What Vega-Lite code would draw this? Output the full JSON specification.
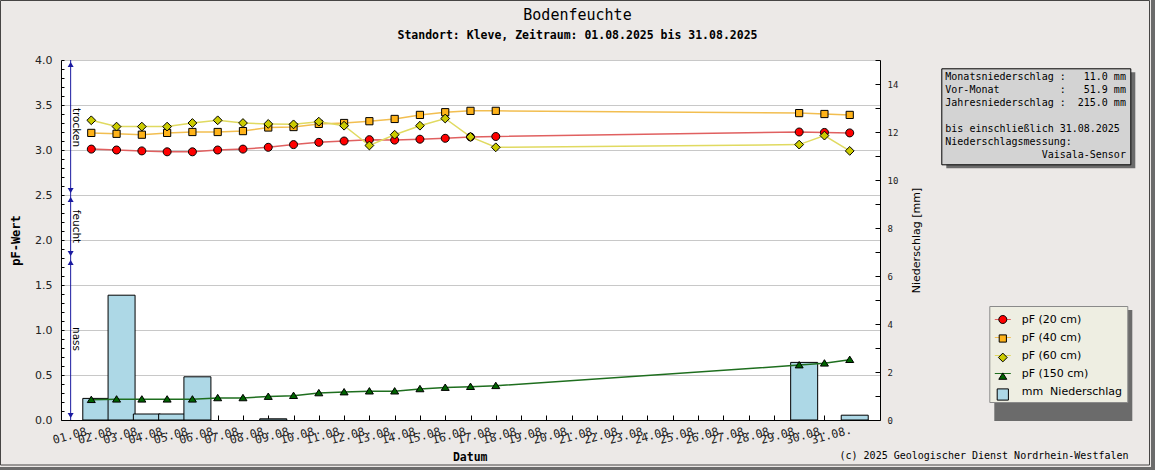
{
  "$schema": "https://vega.github.io/schema/vega-lite/v6.json",
  "width": 819,
  "height": 360,
  "autosize": {"type": "none"},
  "padding": {"left": 61, "top": 60, "right": 275, "bottom": 50},
  "background": "#ECE9E7",
  "view": {"fill": "white", "stroke": null},
  "title": {
    "text": "Bodenfeuchte",
    "subtitle": "Standort: Kleve, Zeitraum: 01.08.2025 bis 31.08.2025",
    "font": "DejaVu Sans Mono", "fontSize": 15, "fontWeight": "normal", "color": "black",
    "subtitleFont": "DejaVu Sans Mono", "subtitleFontSize": 11.5, "subtitleFontWeight": "bold", "subtitleColor": "black",
    "subtitlePadding": 7, "anchor": "middle", "frame": "group", "dx": 107, "offset": -46.5
  },
  "datasets": {
    "pf": [
      {"date": "2025-08-01", "series": "pF (20 cm)", "pF": 3.01},
      {"date": "2025-08-02", "series": "pF (20 cm)", "pF": 3.0},
      {"date": "2025-08-03", "series": "pF (20 cm)", "pF": 2.99},
      {"date": "2025-08-04", "series": "pF (20 cm)", "pF": 2.98},
      {"date": "2025-08-05", "series": "pF (20 cm)", "pF": 2.98},
      {"date": "2025-08-06", "series": "pF (20 cm)", "pF": 3.0},
      {"date": "2025-08-07", "series": "pF (20 cm)", "pF": 3.01},
      {"date": "2025-08-08", "series": "pF (20 cm)", "pF": 3.03},
      {"date": "2025-08-09", "series": "pF (20 cm)", "pF": 3.06},
      {"date": "2025-08-10", "series": "pF (20 cm)", "pF": 3.085},
      {"date": "2025-08-11", "series": "pF (20 cm)", "pF": 3.1},
      {"date": "2025-08-12", "series": "pF (20 cm)", "pF": 3.115},
      {"date": "2025-08-13", "series": "pF (20 cm)", "pF": 3.11},
      {"date": "2025-08-14", "series": "pF (20 cm)", "pF": 3.12},
      {"date": "2025-08-15", "series": "pF (20 cm)", "pF": 3.13},
      {"date": "2025-08-16", "series": "pF (20 cm)", "pF": 3.145},
      {"date": "2025-08-17", "series": "pF (20 cm)", "pF": 3.15},
      {"date": "2025-08-29", "series": "pF (20 cm)", "pF": 3.2},
      {"date": "2025-08-30", "series": "pF (20 cm)", "pF": 3.195},
      {"date": "2025-08-31", "series": "pF (20 cm)", "pF": 3.19},
      {"date": "2025-08-01", "series": "pF (40 cm)", "pF": 3.19},
      {"date": "2025-08-02", "series": "pF (40 cm)", "pF": 3.18},
      {"date": "2025-08-03", "series": "pF (40 cm)", "pF": 3.17},
      {"date": "2025-08-04", "series": "pF (40 cm)", "pF": 3.19},
      {"date": "2025-08-05", "series": "pF (40 cm)", "pF": 3.2},
      {"date": "2025-08-06", "series": "pF (40 cm)", "pF": 3.2},
      {"date": "2025-08-07", "series": "pF (40 cm)", "pF": 3.21},
      {"date": "2025-08-08", "series": "pF (40 cm)", "pF": 3.25},
      {"date": "2025-08-09", "series": "pF (40 cm)", "pF": 3.255},
      {"date": "2025-08-10", "series": "pF (40 cm)", "pF": 3.29},
      {"date": "2025-08-11", "series": "pF (40 cm)", "pF": 3.3},
      {"date": "2025-08-12", "series": "pF (40 cm)", "pF": 3.32},
      {"date": "2025-08-13", "series": "pF (40 cm)", "pF": 3.345},
      {"date": "2025-08-14", "series": "pF (40 cm)", "pF": 3.39},
      {"date": "2025-08-15", "series": "pF (40 cm)", "pF": 3.42},
      {"date": "2025-08-16", "series": "pF (40 cm)", "pF": 3.435},
      {"date": "2025-08-17", "series": "pF (40 cm)", "pF": 3.435},
      {"date": "2025-08-29", "series": "pF (40 cm)", "pF": 3.41},
      {"date": "2025-08-30", "series": "pF (40 cm)", "pF": 3.4},
      {"date": "2025-08-31", "series": "pF (40 cm)", "pF": 3.39},
      {"date": "2025-08-01", "series": "pF (60 cm)", "pF": 3.33},
      {"date": "2025-08-02", "series": "pF (60 cm)", "pF": 3.26},
      {"date": "2025-08-03", "series": "pF (60 cm)", "pF": 3.26},
      {"date": "2025-08-04", "series": "pF (60 cm)", "pF": 3.26},
      {"date": "2025-08-05", "series": "pF (60 cm)", "pF": 3.3},
      {"date": "2025-08-06", "series": "pF (60 cm)", "pF": 3.33},
      {"date": "2025-08-07", "series": "pF (60 cm)", "pF": 3.3},
      {"date": "2025-08-08", "series": "pF (60 cm)", "pF": 3.29},
      {"date": "2025-08-09", "series": "pF (60 cm)", "pF": 3.285},
      {"date": "2025-08-10", "series": "pF (60 cm)", "pF": 3.315},
      {"date": "2025-08-11", "series": "pF (60 cm)", "pF": 3.27},
      {"date": "2025-08-12", "series": "pF (60 cm)", "pF": 3.05},
      {"date": "2025-08-13", "series": "pF (60 cm)", "pF": 3.17},
      {"date": "2025-08-14", "series": "pF (60 cm)", "pF": 3.27},
      {"date": "2025-08-15", "series": "pF (60 cm)", "pF": 3.35},
      {"date": "2025-08-16", "series": "pF (60 cm)", "pF": 3.145},
      {"date": "2025-08-17", "series": "pF (60 cm)", "pF": 3.03},
      {"date": "2025-08-29", "series": "pF (60 cm)", "pF": 3.06},
      {"date": "2025-08-30", "series": "pF (60 cm)", "pF": 3.16},
      {"date": "2025-08-31", "series": "pF (60 cm)", "pF": 2.99},
      {"date": "2025-08-01", "series": "pF (150 cm)", "pF": 0.225},
      {"date": "2025-08-02", "series": "pF (150 cm)", "pF": 0.23},
      {"date": "2025-08-03", "series": "pF (150 cm)", "pF": 0.23},
      {"date": "2025-08-04", "series": "pF (150 cm)", "pF": 0.23},
      {"date": "2025-08-05", "series": "pF (150 cm)", "pF": 0.23},
      {"date": "2025-08-06", "series": "pF (150 cm)", "pF": 0.245},
      {"date": "2025-08-07", "series": "pF (150 cm)", "pF": 0.245},
      {"date": "2025-08-08", "series": "pF (150 cm)", "pF": 0.26},
      {"date": "2025-08-09", "series": "pF (150 cm)", "pF": 0.27},
      {"date": "2025-08-10", "series": "pF (150 cm)", "pF": 0.3},
      {"date": "2025-08-11", "series": "pF (150 cm)", "pF": 0.31},
      {"date": "2025-08-12", "series": "pF (150 cm)", "pF": 0.32},
      {"date": "2025-08-13", "series": "pF (150 cm)", "pF": 0.32},
      {"date": "2025-08-14", "series": "pF (150 cm)", "pF": 0.345},
      {"date": "2025-08-15", "series": "pF (150 cm)", "pF": 0.36},
      {"date": "2025-08-16", "series": "pF (150 cm)", "pF": 0.37},
      {"date": "2025-08-17", "series": "pF (150 cm)", "pF": 0.38},
      {"date": "2025-08-29", "series": "pF (150 cm)", "pF": 0.61},
      {"date": "2025-08-30", "series": "pF (150 cm)", "pF": 0.63},
      {"date": "2025-08-31", "series": "pF (150 cm)", "pF": 0.67}
    ],
    "rain": [
      {"date": "2025-08-01", "mm": 0.9, "series": "mm\u00a0\u00a0Niederschlag"},
      {"date": "2025-08-02", "mm": 5.2, "series": "mm\u00a0\u00a0Niederschlag"},
      {"date": "2025-08-03", "mm": 0.25, "series": "mm\u00a0\u00a0Niederschlag"},
      {"date": "2025-08-04", "mm": 0.25, "series": "mm\u00a0\u00a0Niederschlag"},
      {"date": "2025-08-05", "mm": 1.8, "series": "mm\u00a0\u00a0Niederschlag"},
      {"date": "2025-08-08", "mm": 0.05, "series": "mm\u00a0\u00a0Niederschlag"},
      {"date": "2025-08-29", "mm": 2.4, "series": "mm\u00a0\u00a0Niederschlag"},
      {"date": "2025-08-31", "mm": 0.2, "series": "mm\u00a0\u00a0Niederschlag"}
    ],
    "zones": [
      {"zone": "trocken", "top": 4.0, "bottom": 2.5, "mid": 3.25},
      {"zone": "feucht", "top": 2.5, "bottom": 1.8, "mid": 2.15},
      {"zone": "nass", "top": 1.8, "bottom": 0, "mid": 0.9}
    ],
    "info": [
      {"key": "a", "row": 1},
      {"key": "b", "row": 2}
    ]
  },
  "layer": [
    {
      "data": {"name": "rain"},
      "mark": {"type": "bar", "size": 27, "xOffset": 5, "stroke": "black", "strokeWidth": 1, "opacity": 1},
      "encoding": {
        "x": {
          "field": "date", "type": "temporal",
          "scale": {"type": "utc", "domain": [{"year": 2025, "month": 7, "date": 31, "utc": true}, {"year": 2025, "month": 9, "date": 1, "utc": true}]},
          "axis": {
            "title": "Datum", "format": "%d.%m.",
            "values": [
              {"year": 2025, "month": 8, "date": 1, "utc": true}, {"year": 2025, "month": 8, "date": 2, "utc": true},
              {"year": 2025, "month": 8, "date": 3, "utc": true}, {"year": 2025, "month": 8, "date": 4, "utc": true},
              {"year": 2025, "month": 8, "date": 5, "utc": true}, {"year": 2025, "month": 8, "date": 6, "utc": true},
              {"year": 2025, "month": 8, "date": 7, "utc": true}, {"year": 2025, "month": 8, "date": 8, "utc": true},
              {"year": 2025, "month": 8, "date": 9, "utc": true}, {"year": 2025, "month": 8, "date": 10, "utc": true},
              {"year": 2025, "month": 8, "date": 11, "utc": true}, {"year": 2025, "month": 8, "date": 12, "utc": true},
              {"year": 2025, "month": 8, "date": 13, "utc": true}, {"year": 2025, "month": 8, "date": 14, "utc": true},
              {"year": 2025, "month": 8, "date": 15, "utc": true}, {"year": 2025, "month": 8, "date": 16, "utc": true},
              {"year": 2025, "month": 8, "date": 17, "utc": true}, {"year": 2025, "month": 8, "date": 18, "utc": true},
              {"year": 2025, "month": 8, "date": 19, "utc": true}, {"year": 2025, "month": 8, "date": 20, "utc": true},
              {"year": 2025, "month": 8, "date": 21, "utc": true}, {"year": 2025, "month": 8, "date": 22, "utc": true},
              {"year": 2025, "month": 8, "date": 23, "utc": true}, {"year": 2025, "month": 8, "date": 24, "utc": true},
              {"year": 2025, "month": 8, "date": 25, "utc": true}, {"year": 2025, "month": 8, "date": 26, "utc": true},
              {"year": 2025, "month": 8, "date": 27, "utc": true}, {"year": 2025, "month": 8, "date": 28, "utc": true},
              {"year": 2025, "month": 8, "date": 29, "utc": true}, {"year": 2025, "month": 8, "date": 30, "utc": true},
              {"year": 2025, "month": 8, "date": 31, "utc": true}
            ],
            "labelAngle": -15, "labelAlign": "right", "labelBaseline": "top",
            "labelFont": "DejaVu Sans Mono", "labelFontSize": 11.5, "labelColor": "#222222",
            "labelPadding": 9, "labelOverlap": false, "labelFlush": false,
            "tickSize": -5, "tickColor": "black", "domainColor": "black", "grid": false,
            "titleFont": "DejaVu Sans Mono", "titleFontWeight": "bold", "titleFontSize": 11.5, "titleColor": "black",
            "titleX": 408.7, "titleY": 37, "titleAlign": "center", "titleBaseline": "middle"
          }
        },
        "y": {
          "field": "mm", "type": "quantitative",
          "scale": {"domain": [0, 15], "nice": false},
          "axis": {
            "orient": "right", "title": "Niederschlag [mm]",
            "values": [0, 1, 2, 3, 4, 5, 6, 7, 8, 9, 10, 11, 12, 13, 14, 15],
            "labelExpr": "datum.value % 2 == 0 ? format(datum.value, 'd') : ''",
            "labelOverlap": false,
            "grid": false, "tickSize": -5, "tickColor": "black", "domainColor": "black",
            "labelFont": "DejaVu Sans Mono", "labelFontSize": 9, "labelColor": "#222222", "labelPadding": 12,
            "titleFont": "DejaVu Sans", "titleFontSize": 11, "titleFontWeight": "normal", "titleColor": "black",
            "titleAngle": 270, "titleX": 36, "titleY": 180, "titleAlign": "center", "titleBaseline": "middle"
          }
        },
        "fill": {"field": "series", "type": "nominal"}
      }
    },
    {
      "layer": [
        {
          "data": {"name": "pf"},
          "mark": {"type": "line", "strokeWidth": 1.5},
          "encoding": {
            "x": {
              "field": "date", "type": "temporal",
              "axis": {
                "orient": "bottom", "title": "(c) 2025 Geologischer Dienst Nordrhein-Westfalen",
                "labels": false, "ticks": false, "domain": false, "grid": false,
                "titleFont": "DejaVu Sans Mono", "titleFontSize": 10, "titleFontWeight": "normal", "titleColor": "black",
                "titleX": 1067, "titleY": 38, "titleAlign": "right", "titleBaseline": "alphabetic", "titleLimit": 500
              }
            },
            "y": {
              "field": "pF", "type": "quantitative",
              "scale": {"domain": [0, 4], "nice": false},
              "axis": {
                "orient": "left", "title": "pF-Wert",
                "values": [0, 0.5, 1.0, 1.5, 2.0, 2.5, 3.0, 3.5, 4.0],
                "format": ".1f",
                "labelOverlap": false,
                "grid": true, "gridColor": "#C8C8C8", "gridWidth": 1,
                "tickSize": -3, "tickColor": "black", "domainColor": "black",
                "labelFont": "DejaVu Sans", "labelFontSize": 11, "labelColor": "#222222", "labelPadding": 12,
                "titleFont": "DejaVu Sans Mono", "titleFontWeight": "bold", "titleFontSize": 12, "titleColor": "black",
                "titleAngle": 270, "titleX": -46, "titleY": 180, "titleAlign": "center", "titleBaseline": "middle"
              }
            },
            "stroke": {
              "field": "series", "type": "nominal",
              "scale": {
                "domain": ["mm\u00a0\u00a0Niederschlag", "pF (20 cm)", "pF (40 cm)", "pF (60 cm)", "pF (150 cm)"],
                "range": ["rgba(0,0,0,0)", "#E06060", "#F2BE50", "#E0DA60", "#1E6E1E"]
              },
              "legend": {
                "values": ["pF (20 cm)", "pF (40 cm)", "pF (60 cm)", "pF (150 cm)", "mm\u00a0\u00a0Niederschlag"],
                "orient": "none", "legendX": 928.3, "legendY": 246, "direction": "vertical", "title": null,
                "symbolType": "stroke", "symbolSize": 256, "symbolStrokeWidth": 1,
                "padding": 5, "labelOffset": 10.4, "rowPadding": 4,
                "fillColor": "#EEEEE2", "strokeColor": "#8A8A8A",
                "labelFont": "DejaVu Sans", "labelFontSize": 11, "labelColor": "black", "labelLimit": 0,
                "zindex": 2
              }
            }
          }
        },
        {
          "data": {"name": "pf"},
          "mark": {"type": "point", "filled": true, "size": 256, "stroke": "black", "opacity": 1},
          "encoding": {
            "x": {"field": "date", "type": "temporal"},
            "y": {"field": "pF", "type": "quantitative"},
            "fill": {
              "field": "series", "type": "nominal",
              "scale": {
                "domain": ["pF (20 cm)", "pF (40 cm)", "pF (60 cm)", "pF (150 cm)", "mm\u00a0\u00a0Niederschlag"],
                "range": ["#FF0000", "#FFB319", "#CCCC00", "#006400", "#ADD8E6"]
              },
              "legend": {
                "orient": "none", "legendX": 928.3, "legendY": 246, "direction": "vertical", "title": null,
                "symbolSize": 256, "symbolStrokeColor": "black", "symbolStrokeWidth": 1,
                "padding": 5, "labelOffset": 10.4, "rowPadding": 4,
                "labelFont": "DejaVu Sans", "labelFontSize": 11, "labelOpacity": 0, "labelLimit": 0,
                "zindex": 3
              }
            },
            "shape": {
              "field": "series", "type": "nominal",
              "scale": {
                "domain": ["pF (20 cm)", "pF (40 cm)", "pF (60 cm)", "pF (150 cm)", "mm\u00a0\u00a0Niederschlag"],
                "range": [
                  "M-0.5,0A0.5,0.5,0,1,1,0.5,0A0.5,0.5,0,1,1,-0.5,0Z",
                  "M-0.45,-0.45L0.45,-0.45L0.45,0.45L-0.45,0.45Z",
                  "M0,-0.55L0.55,0L0,0.55L-0.55,0Z",
                  "M0,-0.45L0.5,0.35L-0.5,0.35Z",
                  "M-0.7,-0.7L0.7,-0.7L0.7,0.7L-0.7,0.7Z"
                ]
              },
              "legend": {
                "orient": "none", "legendX": 928.3, "legendY": 246, "direction": "vertical", "title": null,
                "symbolSize": 256, "symbolStrokeColor": "black", "symbolStrokeWidth": 1,
                "padding": 5, "labelOffset": 10.4, "rowPadding": 4,
                "labelFont": "DejaVu Sans", "labelFontSize": 11, "labelOpacity": 0, "labelLimit": 0,
                "zindex": 3
              }
            },
            "strokeWidth": {
              "field": "series", "type": "nominal",
              "scale": {
                "domain": ["pF (150 cm)", "pF (60 cm)", "pF (40 cm)", "pF (20 cm)", "mm\u00a0\u00a0Niederschlag"],
                "range": [1, 1]
              },
              "legend": {
                "orient": "none", "legendX": 933.3, "legendY": 250, "direction": "vertical", "title": null,
                "symbolSize": 256, "symbolOpacity": 0,
                "padding": 5, "labelOffset": 10.4, "rowPadding": 4,
                "fillColor": "#6B6B6B", "strokeColor": null,
                "labelFont": "DejaVu Sans", "labelFontSize": 11, "labelOpacity": 0, "labelLimit": 0,
                "zindex": 1
              }
            }
          }
        },
        {
          "data": {"name": "zones"},
          "mark": {"type": "rule", "color": "#1A1AA0", "strokeWidth": 1},
          "encoding": {
            "x": {"datum": {"year": 2025, "month": 7, "date": 31, "hours": 4, "minutes": 25, "utc": true}, "type": "temporal"},
            "y": {"field": "top", "type": "quantitative"},
            "y2": {"field": "bottom"}
          }
        },
        {
          "data": {"name": "zones"},
          "mark": {"type": "point", "shape": "triangle-up", "size": 36, "filled": true, "color": "#1A1AA0", "opacity": 1, "yOffset": 4.5},
          "encoding": {
            "x": {"datum": {"year": 2025, "month": 7, "date": 31, "hours": 4, "minutes": 25, "utc": true}, "type": "temporal"},
            "y": {"field": "top", "type": "quantitative"}
          }
        },
        {
          "data": {"name": "zones"},
          "mark": {"type": "point", "shape": "triangle-down", "size": 36, "filled": true, "color": "#1A1AA0", "opacity": 1, "yOffset": -4.5},
          "encoding": {
            "x": {"datum": {"year": 2025, "month": 7, "date": 31, "hours": 4, "minutes": 25, "utc": true}, "type": "temporal"},
            "y": {"field": "bottom", "type": "quantitative"}
          }
        },
        {
          "data": {"name": "zones"},
          "mark": {"type": "text", "angle": 90, "align": "center", "baseline": "bottom", "dy": 0, "font": "DejaVu Sans", "fontSize": 10.5, "color": "black"},
          "encoding": {
            "x": {"datum": {"year": 2025, "month": 7, "date": 31, "hours": 4, "minutes": 25, "utc": true}, "type": "temporal"},
            "y": {"field": "mid", "type": "quantitative"},
            "text": {"field": "zone"}
          }
        },
        {
          "data": {"name": "info"},
          "mark": {"type": "point", "filled": true},
          "encoding": {
            "opacity": {
              "field": "key", "type": "nominal",
              "scale": {"domain": ["a"], "range": [0, 0]},
              "legend": {
                "orient": "none", "legendX": 880.3, "legendY": 8.3, "direction": "vertical",
                "title": [
                  "Monatsniederschlag\u00a0:\u00a0\u00a0\u00a011.0\u00a0mm",
                  "Vor-Monat\u00a0\u00a0\u00a0\u00a0\u00a0\u00a0\u00a0\u00a0\u00a0\u00a0:\u00a0\u00a0\u00a051.9\u00a0mm",
                  "Jahresniederschlag\u00a0:\u00a0\u00a0215.0\u00a0mm",
                  "\u200b",
                  "bis\u00a0einschließlich\u00a031.08.2025",
                  "Niederschlagsmessung:",
                  "\u200b\u00a0\u00a0\u00a0\u00a0\u00a0\u00a0\u00a0\u00a0\u00a0\u00a0\u00a0\u00a0\u00a0\u00a0\u00a0\u00a0Vaisala-Sensor"
                ],
                "titleFont": "DejaVu Sans Mono", "titleFontSize": 10, "titleFontWeight": "normal", "titleColor": "black",
                "titleLimit": 0, "titleLineHeight": 13, "titlePadding": 0, "titleAnchor": "start", "titleAlign": "left", "titleBaseline": "top",
                "symbolSize": 0, "symbolOpacity": 0, "labelOpacity": 0, "labelFontSize": 1, "labelOffset": 0, "rowPadding": 0,
                "padding": 4, "fillColor": "#D3D3D3", "strokeColor": "black", "zindex": 2
              }
            },
            "size": {
              "field": "key", "type": "nominal",
              "scale": {"domain": ["b"], "range": [0, 0]},
              "legend": {
                "orient": "none", "legendX": 885.3, "legendY": 12.3, "direction": "vertical",
                "title": [
                  "Monatsniederschlag\u00a0:\u00a0\u00a0\u00a011.0\u00a0mm",
                  "Vor-Monat\u00a0\u00a0\u00a0\u00a0\u00a0\u00a0\u00a0\u00a0\u00a0\u00a0:\u00a0\u00a0\u00a051.9\u00a0mm",
                  "Jahresniederschlag\u00a0:\u00a0\u00a0215.0\u00a0mm",
                  "\u200b",
                  "bis\u00a0einschließlich\u00a031.08.2025",
                  "Niederschlagsmessung:",
                  "\u200b\u00a0\u00a0\u00a0\u00a0\u00a0\u00a0\u00a0\u00a0\u00a0\u00a0\u00a0\u00a0\u00a0\u00a0\u00a0\u00a0Vaisala-Sensor"
                ],
                "titleFont": "DejaVu Sans Mono", "titleFontSize": 10, "titleFontWeight": "normal", "titleOpacity": 0,
                "titleLimit": 0, "titleLineHeight": 13, "titlePadding": 0, "titleAnchor": "start", "titleAlign": "left", "titleBaseline": "top",
                "symbolSize": 0, "symbolOpacity": 0, "labelOpacity": 0, "labelFontSize": 1, "labelOffset": 0, "rowPadding": 0,
                "padding": 4, "fillColor": "#6B6B6B", "strokeColor": null, "zindex": 1
              }
            },
            "color": {
              "field": "row", "type": "quantitative",
              "scale": {"domain": [1, 2], "range": ["rgba(0,0,0,0)", "rgba(0,0,0,0)"]},
              "legend": {
                "type": "gradient", "direction": "horizontal", "orient": "none",
                "legendX": -63.75, "legendY": -62.75, "title": null, "values": [],
                "gradientLength": 1149, "gradientThickness": 464.5,
                "gradientStrokeColor": "black", "gradientStrokeWidth": 1,
                "padding": 3.25, "strokeColor": "#6B6B6B", "fillColor": null,
                "encoding": {"legend": {"strokeWidth": {"value": 4.5}}},
                "zindex": 0
              }
            }
          }
        }
      ]
    },
    {
      "data": {"name": "zones"},
      "mark": {"type": "point", "opacity": 0},
      "encoding": {
        "y": {
          "field": "top", "type": "quantitative",
          "scale": {"domain": [0, 4], "nice": false},
          "axis": {
            "orient": "left", "title": null,
            "values": [0.1, 0.2, 0.3, 0.4, 0.6, 0.7, 0.8, 0.9, 1.1, 1.2, 1.3, 1.4, 1.6, 1.7, 1.8, 1.9, 2.1, 2.2, 2.3, 2.4, 2.6, 2.7, 2.8, 2.9, 3.1, 3.2, 3.3, 3.4, 3.6, 3.7, 3.8, 3.9],
            "labels": false, "grid": false, "domain": false,
            "tickSize": -3, "tickColor": "black"
          }
        }
      }
    }
  ],
  "resolve": {"scale": {"y": "independent"}, "axis": {"x": "independent"}},
  "config": {
    "font": "DejaVu Sans",
    "view": {"stroke": null, "fill": "white"}
  }
}
